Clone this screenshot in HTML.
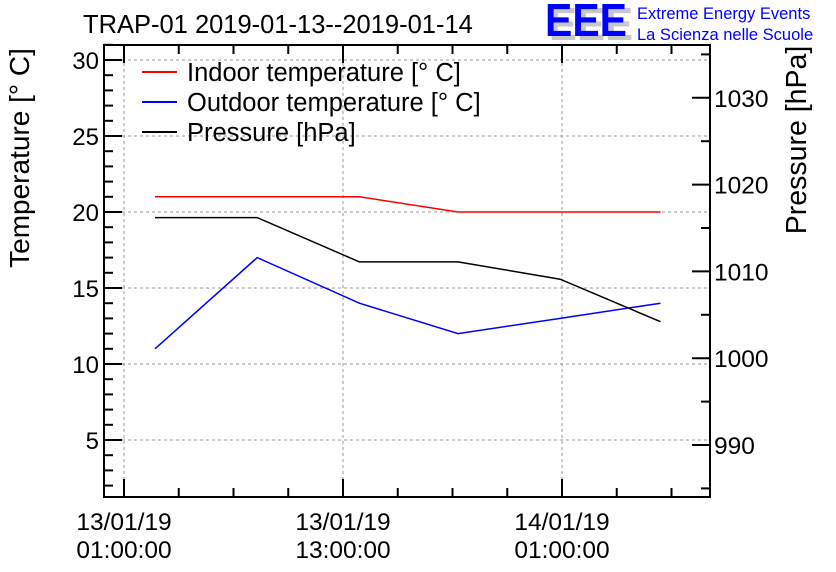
<!DOCTYPE html>
<html><head><meta charset="utf-8"><style>
html,body{margin:0;padding:0;background:#fff;}
svg{display:block;font-family:"Liberation Sans",sans-serif;}
</style></head><body>
<svg id="c" width="836" height="572" viewBox="0 0 836 572">
<text x="83" y="33" font-size="25.5">TRAP-01 2019-01-13--2019-01-14</text>
<g>
<text x="549" y="40" font-size="46" fill="#c8c8c8" font-weight="bold" textLength="84" lengthAdjust="spacingAndGlyphs">EEE</text>
<text x="545" y="36" font-size="46" fill="#0000ff" font-weight="bold" textLength="82" lengthAdjust="spacingAndGlyphs">EEE</text>
<text x="637" y="19" font-size="16.5" fill="#0000ff">Extreme Energy Events</text>
<text x="637" y="40" font-size="16.5" fill="#0000ff">La Scienza nelle Scuole</text>
</g>
<g id="grid"></g>
<g id="axes"></g>
<g id="series"></g>
<text transform="translate(29,158) rotate(-90)" text-anchor="middle" font-size="28">Temperature [° C]</text>
<text transform="translate(806,140) rotate(-90)" text-anchor="middle" font-size="28.5">Pressure [hPa]</text>
<g>
<line x1="142" y1="72" x2="177" y2="72" stroke="#ff0000" stroke-width="2"/>
<text x="187" y="81" font-size="25.5">Indoor temperature [° C]</text>
<line x1="142" y1="102" x2="177" y2="102" stroke="#0000ff" stroke-width="2"/>
<text x="187" y="111" font-size="25.5">Outdoor temperature [° C]</text>
<line x1="142" y1="132" x2="177" y2="132" stroke="#000" stroke-width="2"/>
<text x="187" y="141" font-size="25.5">Pressure [hPa]</text>
</g>
</svg>
<script>
const hours = [1.7, 7.3, 12.9, 18.3, 23.9, 29.4];
const indoor = [21, 21, 21, 20, 20, 20];
const outdoor = [11, 17, 14, 12, 13, 14];
const pressure = [1016.2, 1016.2, 1011.1, 1011.1, 1009.1, 1004.2];
const tempTicks = [5, 10, 15, 20, 25, 30];
const presTicks = [990, 1000, 1010, 1020, 1030];
const xTickHours = [0, 12, 24];
const xTickLabels = [["13/01/19","01:00:00"],["13/01/19","13:00:00"],["14/01/19","01:00:00"]];

const L=104,R=710,T=45,B=497;
const xs=h=>124+h*(219/12);
const yT=v=>60+(30-v)*15.2;
const yP=v=>445-(v-990)*8.68;
const NS='http://www.w3.org/2000/svg';
function mk(tag,attrs,parent){const e=document.createElementNS(NS,tag);for(const k in attrs)e.setAttribute(k,attrs[k]);parent.appendChild(e);return e;}
const grid=document.getElementById('grid'),axes=document.getElementById('axes'),series=document.getElementById('series');
tempTicks.forEach(v=>{const l=mk('line',{x1:L,x2:R,y1:yT(v),y2:yT(v),stroke:'#999','stroke-dasharray':'3,3','stroke-width':1},grid);

});
xTickHours.forEach(h=>{const l=mk('line',{x1:xs(h),x2:xs(h),y1:T,y2:B,stroke:'#999','stroke-dasharray':'3,3','stroke-width':1},grid);

});
const fr=mk('rect',{x:L,y:T,width:R-L,height:B-T,fill:'none',stroke:'#000','stroke-width':2},axes);


for(let v=2;v<=31;v++){const maj=v%5===0;mk('line',{x1:L,x2:L+(maj?18:9),y1:yT(v),y2:yT(v),stroke:'#000','stroke-width':2},axes);}
tempTicks.forEach(v=>{const t=mk('text',{x:L-5,y:yT(v)+9,'text-anchor':'end','font-size':24},axes);t.textContent=v;

});
for(let v=985;v<=1035;v+=5){const maj=v%10===0;mk('line',{x1:R,x2:R-(maj?18:9),y1:yP(v),y2:yP(v),stroke:'#000','stroke-width':2},axes);}
presTicks.forEach(v=>{const t=mk('text',{x:R+4,y:yP(v)+9,'font-size':24.5},axes);t.textContent=v;

});
for(let h=-3;h<=33;h+=3){const x=xs(h);if(x<L||x>R)continue;const maj=h%12===0;
mk('line',{x1:x,x2:x,y1:B,y2:B-(maj?18:9),stroke:'#000','stroke-width':2},axes);
mk('line',{x1:x,x2:x,y1:T,y2:T+(maj?18:9),stroke:'#000','stroke-width':2},axes);}
xTickHours.forEach((h,i)=>{const t=mk('text',{x:xs(h),y:530,'text-anchor':'middle','font-size':24.5},axes);t.textContent=xTickLabels[i][0];


const t2=mk('text',{x:xs(h),y:558,'text-anchor':'middle','font-size':24.5},axes);t2.textContent=xTickLabels[i][1];

});
function line(vals,yf,color,name){const pts=vals.map((v,i)=>xs(hours[i]).toFixed(1)+','+yf(v).toFixed(1)).join(' ');
const p=mk('polyline',{points:pts,fill:'none',stroke:color,'stroke-width':1.5},series);

}
line(indoor,yT,'#ff0000','indoor-temperature-line');
line(outdoor,yT,'#0000ff','outdoor-temperature-line');
line(pressure,yP,'#000000','pressure-line');
</script>
</body></html>
